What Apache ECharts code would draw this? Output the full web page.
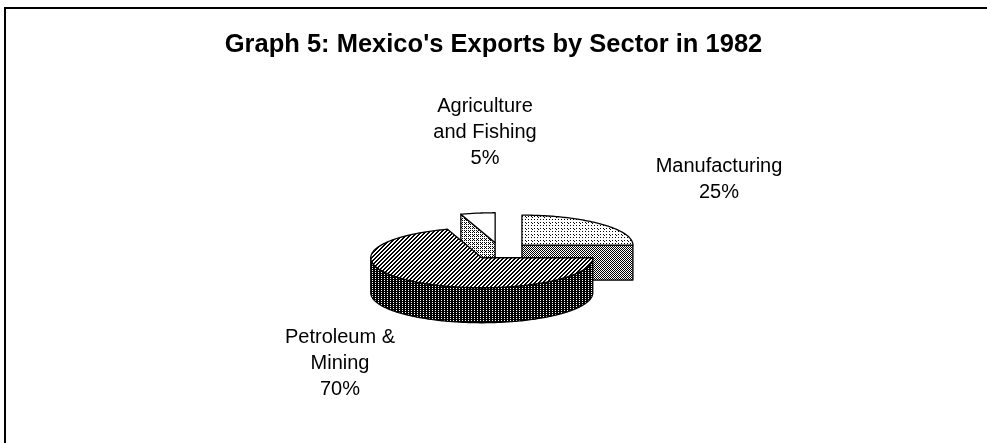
<!DOCTYPE html>
<html><head><meta charset="utf-8">
<script src="https://cdn.jsdelivr.net/npm/echarts@6/dist/echarts.min.js"></script>
<style>html,body{margin:0;padding:0;background:#fff}#c{width:987px;height:443px}</style>
</head><body><div id="c"></div>
<script>
// ---- data ----
const categories = ['Manufacturing', 'Petroleum & Mining', 'Agriculture and Fishing'];
const values = [25, 70, 5];
const labelTexts = ['Manufacturing', 'Petroleum &\nMining', 'Agriculture\nand Fishing'];
const titleText = "Graph 5: Mexico's Exports by Sector in 1982";

// ---- layout / style (not data) ----
const geo = { cx: 500, cy: 251, R: 111, k: 0.27, explode: 31, depth: 35 };
const drawOrder = [1, 3, 2];
const labelPos = [[719, 153], [340, 324], [485, 93]];

function pattern(size, bg, fg, fn) {
  const c = document.createElement('canvas');
  c.width = c.height = size;
  const ctx = c.getContext('2d');
  ctx.fillStyle = bg; ctx.fillRect(0, 0, size, size);
  ctx.fillStyle = fg;
  for (let x = 0; x < size; x++) for (let y = 0; y < size; y++) if (fn(x, y)) ctx.fillRect(x, y, 1, 1);
  return { image: c, repeat: 'repeat' };
}
const fills = [
  { top: pattern(6, '#ffffff', '#000000', (x, y) => (x % 3 === 0 && y % 3 === 0) || (x % 6 === 4 && y % 6 === 1)),
    side: pattern(2, '#ffffff', '#000000', (x, y) => (x + y) % 2 === 0) },
  { top: pattern(4, '#ffffff', '#000000', (x, y) => (x + y) % 4 < 2),
    side: pattern(6, '#000000', '#ffffff', (x, y) => (x % 3 === 0 && y % 2 === 0)) },
  { top: '#ffffff',
    side: pattern(4, '#ffffff', '#000000', (x, y) => (x % 2 === 0 && y % 2 === 0) || (x === 1 && y === 3)) }
];

const total = values.reduce((a, b) => a + b, 0);
const starts = [];
{ let cum = 0; values.forEach(v => { starts.push(90 - 360 * cum / total); cum += v; }); }

function renderItem(params, api) {
  const i = params.dataIndex;
  const v = api.value(0);
  const a0 = starts[i], a1 = a0 - 360 * v / total;
  const mid = (a0 + a1) / 2 * Math.PI / 180;
  const cx = geo.cx + geo.explode * Math.cos(mid);
  const cy = geo.cy - geo.explode * Math.sin(mid) * geo.k;
  const P = (deg, dy) => { const t = deg * Math.PI / 180; return [cx + geo.R * Math.cos(t), cy - geo.R * geo.k * Math.sin(t) + (dy || 0)]; };
  const arc = (hi, lo, dy) => { const pts = []; const n = Math.max(2, Math.ceil(hi - lo)); for (let s = 0; s <= n; s++) pts.push(P(hi - (hi - lo) * s / n, dy)); return pts; };
  const base = drawOrder[i] * 10;
  const children = [];
  const stroke = { stroke: '#000', lineWidth: 1.3, lineJoin: 'round' };
  const D = geo.depth;
  const cosd = d => Math.cos(d * Math.PI / 180);
  if (cosd(a0) < -1e-6) {
    children.push({ type: 'polygon', z2: base + 1, shape: { points: [[cx, cy], P(a0), P(a0, D), [cx, cy + D]] }, style: Object.assign({ fill: fills[i].side }, stroke) });
  }
  if (cosd(a1) > 1e-6) {
    children.push({ type: 'polygon', z2: base + 1, shape: { points: [[cx, cy], P(a1), P(a1, D), [cx, cy + D]] }, style: Object.assign({ fill: fills[i].side }, stroke) });
  }
  for (let n = -2; n <= 2; n++) {
    const fHi = 360 * n, fLo = -180 + 360 * n;
    const hi = Math.min(a0, fHi), lo = Math.max(a1, fLo);
    if (hi - lo > 0.01) {
      const topPts = arc(hi, lo, 0);
      const botPts = arc(hi, lo, D).reverse();
      children.push({ type: 'polygon', z2: base + 2, shape: { points: topPts.concat(botPts) }, style: Object.assign({ fill: fills[i].side }, stroke) });
    }
  }
  children.push({ type: 'polygon', z2: base + 5, shape: { points: [[cx, cy]].concat(arc(a0, a1, 0)) }, style: Object.assign({ fill: fills[i].top }, stroke) });
  return { type: 'group', children };
}

const chart = echarts.init(document.getElementById('c'), null, { renderer: 'canvas' });
chart.setOption({
  animation: false,
  backgroundColor: '#ffffff',
  title: {
    text: titleText, left: 'center', top: 27,
    textStyle: { fontFamily: 'Arial, Liberation Sans, sans-serif', fontSize: 25.5, fontWeight: 'bold', color: '#000' }
  },
  graphic: [
    { type: 'polyline', shape: { points: [[5, 443], [5, 8], [987, 8]] }, style: { stroke: '#000', lineWidth: 2, fill: null } }
  ].concat(categories.map((c, i) => ({
    type: 'text', x: labelPos[i][0], y: labelPos[i][1],
    style: { text: labelTexts[i] + '\n' + values[i] + '%', textAlign: 'center', textVerticalAlign: 'top',
      font: '20px Arial, Liberation Sans, sans-serif', lineHeight: 26, fill: '#000' }
  }))),
  series: [{
    type: 'custom', coordinateSystem: 'none', name: 'Exports',
    data: values.map((v, i) => ({ name: categories[i], value: [v, i] })),
    renderItem
  }]
});
</script></body></html>
